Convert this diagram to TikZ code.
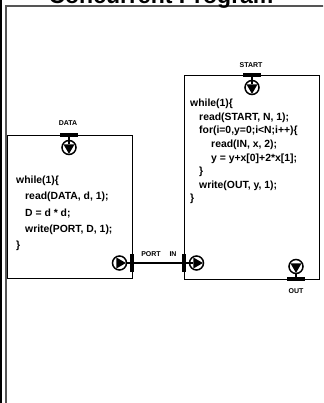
\documentclass[tikz,border=0pt]{standalone}
\usepackage{fontspec}
\setmainfont{Liberation Sans}
\definecolor{cpFrame}{HTML}{555555}
\tikzset{
  cp box/.style={draw=black, line width=0.9pt},
  cp frame/.style={draw=cpFrame, line width=2pt},
  cp code/.style={font=\bfseries\fontsize{10.4}{12}\selectfont, inner sep=0pt, anchor=base west},
  cp label/.style={font=\bfseries\fontsize{7}{8}\selectfont, inner sep=0pt},
  cp ring/.style={draw=black, line width=1.5pt},
  cp stem/.style={draw=black, line width=1.2pt},
  cp link/.style={draw=black, line width=2.6pt},
  port in/.pic={
    \fill (-9,-1.6) rectangle (9,1.6);
    \draw[cp stem] (0,0) -- (0,-9);
    \draw[cp ring] (0,-12.5) circle (7);
    \fill[shift={(0,-12.5)}] (150:6.4) -- (30:6.4) -- (270:6.4) -- cycle;
    \coordinate (-bar) at (0,0);
  },
  port out/.pic={
    \fill (-9,-1.6) rectangle (9,1.6);
    \draw[cp stem] (0,0) -- (0,-5.5);
    \draw[cp ring] (0,-12.5) circle (7);
    \fill[shift={(0,-12.5)}] (210:6.4) -- (330:6.4) -- (90:6.4) -- cycle;
    \coordinate (-bar) at (0,0);
  },
}
\begin{document}
\begin{tikzpicture}[x=1pt,y=1pt]
  \useasboundingbox (0,0) rectangle (323,403);
  \clip (0,0) rectangle (323,403);
  % outer frame, cut by the page
  \draw[line width=2pt] (1,0) -- (1,403);
  \draw[cp frame] (6,0) -- (6,397) -- (330,397);
  \node[font=\bfseries\fontsize{23}{26}\selectfont, anchor=base, inner sep=0pt] (title) at (161,399.5) {Concurrent Program};
  % the two processes
  \draw[cp box] (7.5,125) rectangle (132,268);
  \draw[cp box] (184,124) rectangle (319,328);
  \foreach \k/\dx/\txt in {0/0/{while(1)\{}, 1/9/{read(DATA, d, 1);}, 2/9/{D = d * d;},
      3/9/{write(PORT, D, 1);}, 4/0/{\}}}
    \node[cp code] (data\k) at (16+\dx,219.3-16.2*\k) {\txt};
  \foreach \k/\dx/\txt in {0/0/{while(1)\{}, 1/9/{read(START, N, 1);}, 2/9/{for(i=0,y=0;i<N;i++)\{},
      3/21/{read(IN, x, 2);}, 4/21/{y = y+x[0]+2*x[1];}, 5/9/{\}}, 6/9/{write(OUT, y, 1);}, 7/0/{\}}}
    \node[cp code] (sum\k) at (190+\dx,296.3-13.6*\k) {\txt};
  % ports
  \pic (pdata) at (69,268) {port in};
  \pic (pstart) at (252,328) {port in};
  \pic[rotate=-90] (pport) at (132,140) {port out};
  \pic[rotate=90] (pin) at (184,140) {port in};
  \pic[rotate=180] (pout) at (296,124) {port out};
  \draw[cp link] (pport-bar) -- (pin-bar);
  \node[cp label] (lbldata) at (68,280) {DATA};
  \node[cp label] (lblstart) at (251,338) {START};
  \node[cp label] (lblport) at (151,149) {PORT};
  \node[cp label] (lblin) at (173,149) {IN};
  \node[cp label] (lblout) at (296,112) {OUT};
\end{tikzpicture}
\end{document}
